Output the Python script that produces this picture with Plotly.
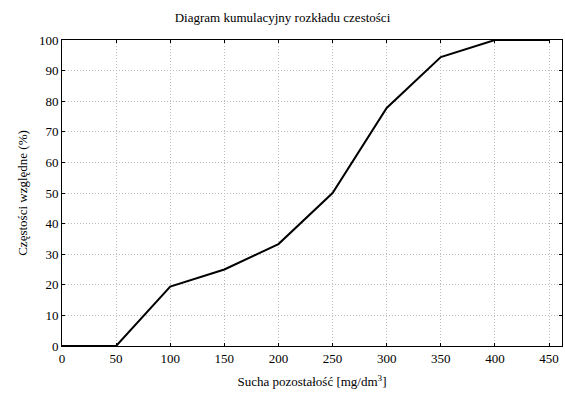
import plotly.graph_objects as go

# Cumulative relative frequency of dry residue
sucha_pozostalosc = [0, 50, 100, 150, 200, 250, 300, 350, 400, 450]
czestosc_skumulowana = [0, 0, 19.4, 25.0, 33.3, 50.0, 77.8, 94.4, 100, 100]

x_ticks = [0, 50, 100, 150, 200, 250, 300, 350, 400, 450]
y_ticks = [0, 10, 20, 30, 40, 50, 60, 70, 80, 90, 100]

FONT = "Times New Roman, Liberation Serif, serif"

fig = go.Figure(
    go.Scatter(
        x=sucha_pozostalosc,
        y=czestosc_skumulowana,
        mode="lines",
        line=dict(color="black", width=2),
        hoverinfo="skip",
    )
)

axis_common = dict(
    showline=True,
    linecolor="black",
    linewidth=1,
    mirror="ticks",
    ticks="inside",
    ticklen=3,
    tickcolor="black",
    showgrid=True,
    gridcolor="#bdbdbd",
    griddash="1px,2px",
    gridwidth=1,
    zeroline=False,
    tickfont=dict(family=FONT, size=13, color="black"),
)

fig.update_layout(
    width=565,
    height=394,
    margin=dict(l=62, r=3, t=40, b=48),
    paper_bgcolor="white",
    plot_bgcolor="white",
    showlegend=False,
    font=dict(family=FONT, size=13, color="black"),
    title=dict(
        text="Diagram kumulacyjny rozkładu czestości",
        x=0.5,
        xanchor="center",
        y=0.955,
        yanchor="middle",
        font=dict(family=FONT, size=13, color="black"),
    ),
    xaxis=dict(
        range=[0, 462],
        tickvals=x_ticks,
        title=dict(
            text="Sucha pozostałość [mg/dm<sup>3</sup>]",
            font=dict(family=FONT, size=13, color="black"),
            standoff=12,
        ),
        **axis_common,
    ),
    yaxis=dict(
        range=[0, 100],
        tickvals=y_ticks,
        title=dict(
            text="Częstości względne (%)",
            font=dict(family=FONT, size=13, color="black"),
            standoff=8,
        ),
        **axis_common,
    ),
)

fig.write_html("out.html")
